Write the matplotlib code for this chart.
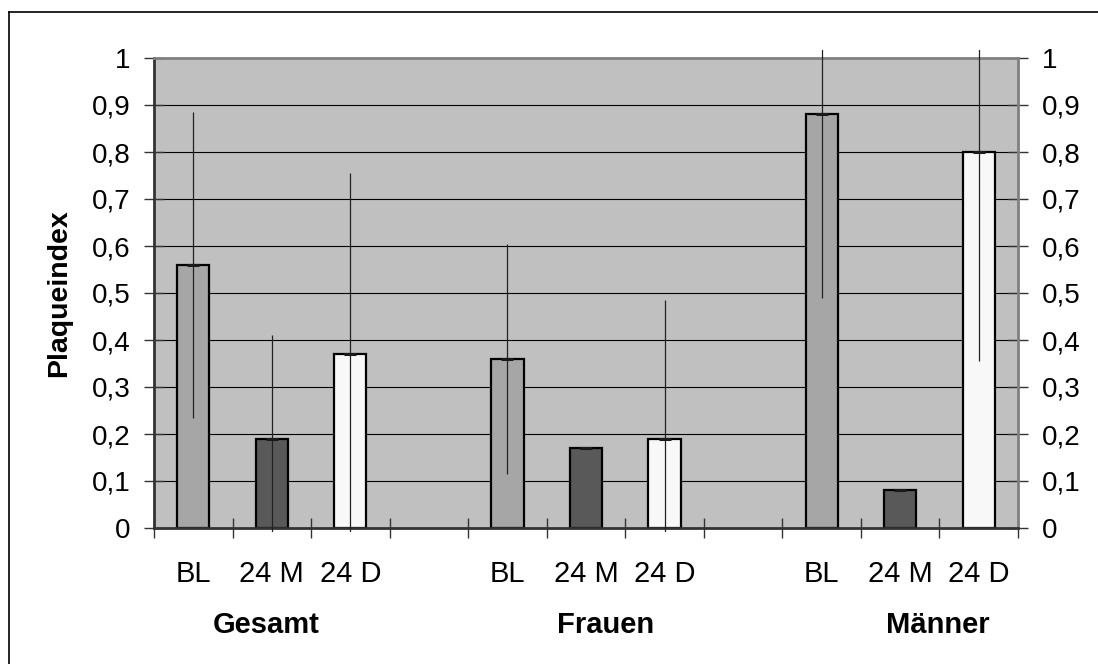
import matplotlib
matplotlib.use("Agg")
import matplotlib.pyplot as plt
import numpy as np
from matplotlib.lines import Line2D
from matplotlib.patches import Rectangle
import matplotlib.transforms as mtransforms

plt.rcParams['font.family'] = ['Liberation Sans', 'DejaVu Sans']

# ---- data ----
groups = ["Gesamt", "Frauen", "Männer"]
timepoints = ["BL", "24 M", "24 D"]
gesamt_mean = [0.56, 0.19, 0.37]
gesamt_sd = [0.325, 0.22, 0.385]
frauen_mean = [0.36, 0.17, 0.19]
frauen_sd = [0.245, 0.0, 0.295]
maenner_mean = [0.88, 0.08, 0.80]
maenner_sd = [0.39, 0.0, 0.445]
y_ticks = [0, 0.1, 0.2, 0.3, 0.4, 0.5, 0.6, 0.7, 0.8, 0.9, 1]
y_ticklabels = ["0", "0,1", "0,2", "0,3", "0,4", "0,5", "0,6", "0,7", "0,8", "0,9", "1"]

means = [gesamt_mean, frauen_mean, maenner_mean]
sds = [gesamt_sd, frauen_sd, maenner_sd]

# ---- style ----
bar_colors = ["#A6A6A6", "#595959", "#F8F8F8"]
FS = 20
FSX = 21

W, H = 1098, 664
fig = plt.figure(figsize=(W / 100, H / 100), dpi=100)
ax = fig.add_axes([154 / W, 1 - 528 / H, (1018 - 154) / W, (528 - 58) / H])
ax.set_facecolor("#C0C0C0")

xs_all, lab_all, m_all, s_all, c_all = [], [], [], [], []
for g in range(len(groups)):
    for i in range(len(timepoints)):
        xs_all.append(4 * g + i)
        lab_all.append(timepoints[i])
        m_all.append(means[g][i])
        s_all.append(sds[g][i])
        c_all.append(bar_colors[i])

ax.set_xlim(-0.5, 10.5)
ax.set_ylim(0, 1)

# grid
for yv in y_ticks[1:-1]:
    ax.axhline(yv, color="black", lw=0.8, zorder=1)

ax.bar(xs_all, m_all, width=0.41, color=c_all, edgecolor="black", linewidth=1.6, zorder=2)

eb = ax.errorbar(xs_all, m_all, yerr=s_all, fmt="_", markersize=9, mew=2.2,
                 color="#1a1a1a", ecolor="#222222", elinewidth=0.9, zorder=3)
clip_rect = Rectangle((0, -0.009), 1, 1.026, transform=ax.transAxes,
                      facecolor="none", edgecolor="none")
ax.add_patch(clip_rect)
for artist in [eb.lines[0]] + list(eb.lines[2]):
    artist.set_clip_path(clip_rect)

# spines
for side in ["left", "bottom"]:
    ax.spines[side].set_color("#333333")
    ax.spines[side].set_linewidth(2.0)
for side in ["top", "right"]:
    ax.spines[side].set_color("#808080")
    ax.spines[side].set_linewidth(2.0)

# y ticks both sides
ax.set_yticks(y_ticks)
ax.set_yticklabels(y_ticklabels)
ax.tick_params(axis="y", which="major", direction="inout", length=14, width=1.0,
               color="#333333", left=True, right=True, labelleft=True, labelright=True,
               labelsize=FS, pad=10)

# x ticks: marks at boundaries, labels at centers
ax.set_xticks(np.arange(-0.5, 11, 1.0))
ax.set_xticklabels([])
ax.set_xticks(xs_all, minor=True)
ax.set_xticklabels(lab_all, minor=True)
ax.tick_params(axis="x", which="major", direction="inout", length=14, width=1.0, color="#333333")
ax.tick_params(axis="x", which="minor", length=0, labelsize=FSX, pad=23)

ax.set_ylabel("Plaqueindex", fontsize=FS + 0.5, fontweight="bold", labelpad=14)

# group labels
trans = mtransforms.blended_transform_factory(ax.transData, fig.transFigure)
group_x = [0.93, 5.25, 9.48]
for gx, gname in zip(group_x, groups):
    fig.text(gx, 1 - 625 / H, gname, transform=trans, ha="center", va="center",
             fontsize=FSX, fontweight="bold")

# figure border (left and top visible)
fig.add_artist(Line2D([9 / W, 9 / W], [0, 1 - 12 / H], transform=fig.transFigure,
                      color="black", lw=1.2))
fig.add_artist(Line2D([9 / W, 1], [1 - 12 / H, 1 - 12 / H], transform=fig.transFigure,
                      color="black", lw=1.2))

fig.savefig("out.png", dpi=100)
